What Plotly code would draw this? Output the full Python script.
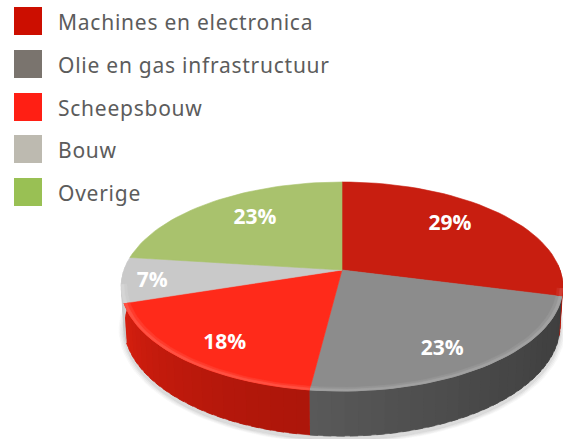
import math
import plotly.graph_objects as go

# Data
categories = ["Machines en electronica", "Olie en gas infrastructuur", "Scheepsbouw", "Bouw", "Overige"]
values = [29, 23, 18, 7, 23]
value_labels = ["29%", "23%", "18%", "7%", "23%"]

# Styles
legend_colors = ["#cc0e00", "#7a746e", "#ff1f14", "#bdbab0", "#99c054"]
top_colors = ["#c81e10", "#8c8c8c", "#ff2a1a", "#c9c9c9", "#a9c26d"]
wall_near = ["#b51608", "#3f3f3f", "#ad160a", "#c8c8c8", "#a9c26d"]
wall_far = ["#b51608", "#5a5a5a", "#d81f0f", "#d8d8d8", "#a9c26d"]
edge_colors = ["#d4443a", "#a6a6a6", "#ff5a4c", "#d8d8d8", "#a9c26d"]
label_radius = [0.73, 0.796, 0.798, 0.863, 0.715]
label_angle_shift = [-5.2, 3.2, -2.3, -1.0, 3.9]

W, H = 563, 439
CX, CY, A, B, K, D = 342, 270, 218, 101.9, 0.158, 38


def project(theta, r=1.0, depth=0.0):
    px, py = r * math.sin(theta), r * math.cos(theta)
    w = 1 + K * py
    s = 1 - 0.012 * (depth > 0)
    return CX + s * A * px / w, CY - B * py / w + depth / w


def arc(t0, t1, r=1.0, depth=0.0, n=40):
    ts = [t0 + (t1 - t0) * i / n for i in range(n + 1)]
    pts = [project(t, r, depth) for t in ts]
    return [p[0] for p in pts], [p[1] for p in pts]


def hex2rgb(c):
    return [int(c[i:i + 2], 16) for i in (1, 3, 5)]


def mix(c0, c1, f):
    a, b = hex2rgb(c0), hex2rgb(c1)
    return "rgb(%d,%d,%d)" % tuple(round(a[i] + (b[i] - a[i]) * f) for i in range(3))


fig = go.Figure()


def poly(xs, ys, color, name=None):
    fig.add_trace(go.Scatter(x=xs, y=ys, mode="lines", fill="toself", fillcolor=color,
                             line=dict(color=color, width=0.6), hoverinfo="skip",
                             showlegend=False, name=name))


# soft shadow under the pie
for grow, alpha in [(1.022, 0.04), (1.016, 0.05), (1.010, 0.06), (1.004, 0.08)]:
    xs, ys = arc(0, 2 * math.pi, grow, 41, 120)
    poly(xs, ys, "rgba(90,90,90,%.2f)" % alpha)

total = sum(values)
edges = [0.0]
for v in values:
    edges.append(edges[-1] + 2 * math.pi * v / total)

# side wall, split in narrow strips so that the shading runs along the rim
step = math.radians(3)
for i in range(len(values)):
    t = edges[i]
    while t < edges[i + 1] - 1e-9:
        t2 = min(t + step, edges[i + 1])
        if math.radians(88) < t2 and t < math.radians(272):
            end = min(t2 + step * 0.6, edges[i + 1])
            xa, ya = arc(t, end, 1.0, 0, 2)
            xb, yb = arc(end, t, 1.0, D, 2)
            f = (t - edges[i]) / (edges[i + 1] - edges[i])
            poly(xa + xb, ya + yb, mix(wall_near[i], wall_far[i], max(0, f) ** 1.4))
        t = t2

# top face
for i, name in enumerate(categories):
    xs, ys = arc(edges[i], edges[i + 1])
    poly([CX] + xs + [CX], [CY] + ys + [CY], top_colors[i], name)

# bevel on the front edge of the top face
for i in range(len(values)):
    t0, t1 = max(edges[i], math.radians(100)), min(edges[i + 1], math.radians(262))
    if t1 > t0:
        for r0, f in [(0.975, 0.35), (0.988, 0.8)]:
            xa, ya = arc(t0, t1, r0)
            xb, yb = arc(t1, t0, 1.0)
            poly(xa + xb, ya + yb, mix(top_colors[i], edge_colors[i], f))

# value labels
lab_x, lab_y = [], []
cum = 0
for v, r, da in zip(values, label_radius, label_angle_shift):
    x, y = project(2 * math.pi * (cum + v / 2) / total + math.radians(da), r)
    lab_x.append(x)
    lab_y.append(y + 2)
    cum += v
fig.add_trace(go.Scatter(x=lab_x, y=lab_y, mode="text", text=value_labels, showlegend=False, hoverinfo="skip",
                         textfont=dict(family="Open Sans", size=21, color="white", weight="bold")))

# legend
LEG_Y = [21, 64, 107, 149, 192]
fig.add_trace(go.Scatter(x=[28] * 5, y=LEG_Y, mode="markers", hoverinfo="skip", showlegend=False,
                         marker=dict(symbol="square", size=28, color=legend_colors, line=dict(width=0))))
fig.add_trace(go.Scatter(x=[58] * 5, y=[y + 4 for y in LEG_Y], mode="text", text=categories, textposition="middle right",
                         hoverinfo="skip", showlegend=False,
                         textfont=dict(family="Noto Sans", size=21, color="#5c5c5c")))

fig.update_layout(width=W, height=H, margin=dict(l=0, r=0, t=0, b=0), plot_bgcolor="white", paper_bgcolor="white",
                  showlegend=False,
                  xaxis=dict(range=[0, W], visible=False, fixedrange=True),
                  yaxis=dict(range=[H, 0], visible=False, fixedrange=True))
post = ("document.body.style.margin='0';document.body.style.overflow='hidden';"
        "document.querySelectorAll('.textpoint text').forEach(function(e){"
        "if(e.textContent.length>3&&e.textContent.indexOf('%')<0){e.style.letterSpacing='0.75px';}});")
fig.write_html("out.html", config=dict(displayModeBar=False, responsive=False), post_script=post)
